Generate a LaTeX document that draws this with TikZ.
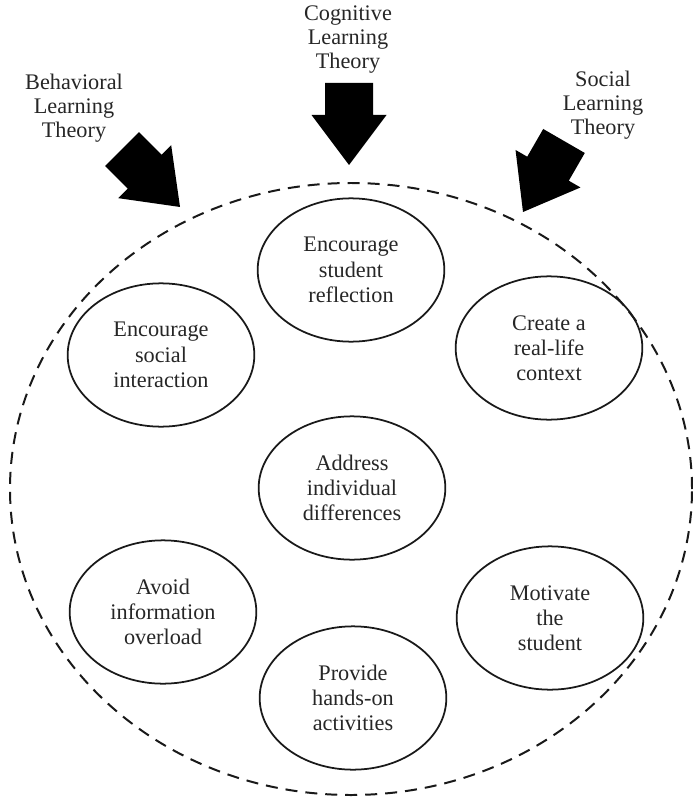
\documentclass[tikz,border=0pt]{standalone}
\usepackage{fontspec}
\setmainfont{Liberation Serif}
\usetikzlibrary{shapes.geometric}

\begin{document}
\begin{tikzpicture}[
        idea/.style={ellipse, draw=black!90, line width=1.5pt, minimum width=5.6cm, minimum height=4.3cm, inner sep=0pt, align=center, text=black!85, font=\fontsize{19}{21.5}\selectfont},
        theory/.style={align=center, font=\fontsize{19}{20.5}\selectfont, text=black!85},
        frame/.style={ellipse, draw=black!90, line width=1.7pt, dash pattern=on 0.36cm off 0.24cm, minimum width=20.46cm, minimum height=18.36cm, inner sep=0pt},
    ]
        \useasboundingbox (0,0) rectangle (20.76,-23.97);

        % Draw the surrounding dashed frame
        \node[frame] (F) at (10.53,-14.67) {};

        % Draw the theory labels
        \node[theory] (T-cog) at (10.44,-1.2) {Cognitive\\Learning\\Theory};
        \node[theory] (T-beh) at (2.22,-3.24) {Behavioral\\Learning\\Theory};
        \node[theory] (T-soc) at (18.09,-3.15) {Social\\Learning\\Theory};

        % Draw the block arrows (tip x / tip y / direction)
        \foreach \tx / \ty / \ang in {10.47/-4.95/-90, 5.4/-6.21/-45, 15.69/-6.36/-120}
            \fill[black, shift={(\tx,\ty)}, rotate=\ang]
                (0,0) -- (-1.5,1.125) -- (-1.5,0.72) -- (-2.46,0.72)
                -- (-2.46,-0.72) -- (-1.5,-0.72) -- (-1.5,-1.125) -- cycle;

        % Draw the principle nodes
        \node[idea] (reflect) at (10.53,-8.10) {Encourage\\student\\reflection};
        \node[idea] (social) at (4.83,-10.65) {Encourage\\social\\interaction};
        \node[idea] (context) at (16.47,-10.44) {Create a\\real-life\\context};
        \node[idea] (differ) at (10.56,-14.64) {Address\\individual\\differences};
        \node[idea] (overload) at (4.89,-18.36) {Avoid\\information\\overload};
        \node[idea] (motivate) at (16.5,-18.54) {Motivate\\the\\student};
        \node[idea] (handson) at (10.59,-20.94) {Provide\\hands-on\\activities};
\end{tikzpicture}
\end{document}
